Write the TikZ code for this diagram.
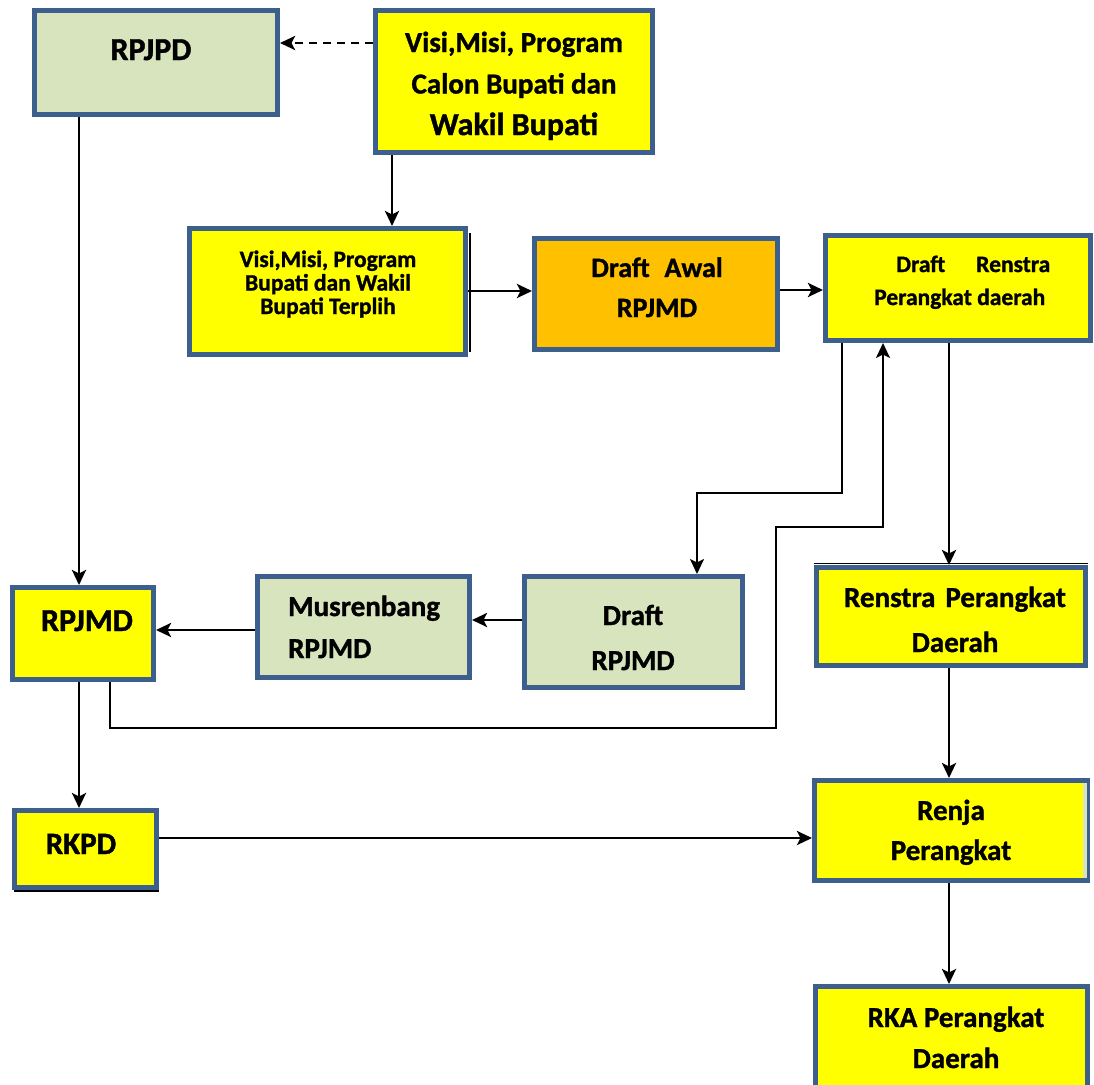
\documentclass[tikz,border=0pt]{standalone}
\usepackage{fontspec}
\setmainfont{Carlito}[BoldFeatures={FakeBold=1.2}]
\usetikzlibrary{arrows.meta}
\definecolor{bord}{HTML}{3C5F8E}
\definecolor{ylw}{HTML}{FFFF00}
\definecolor{grn}{HTML}{D7E4BD}
\definecolor{org}{HTML}{FFC000}
\newcommand\mybox[6]{\node[boxst,fill=#6,minimum width={(#4-#2-5)*1pt},minimum height={(#5-#3-5)*1pt}] (#1) at ({(#2+#4)/2},{(#3+#5)/2}) {};}
\newcommand\fsz[2]{\fontsize{#1}{#2}\selectfont\bfseries}
\begin{document}
\begin{tikzpicture}[x=1pt,y=-1pt,
  boxst/.style={draw=bord,line width=5pt,inner sep=0pt},
  conn/.style={line width=2.8pt},
  thinconn/.style={line width=2.2pt},
  arr/.style={-{Stealth[length=15pt,width=14pt,inset=3.5pt]}},
  txt/.style={align=center,inner sep=0pt}]
\clip (0,0) rectangle (1094,1084);
\fill[white] (0,0) rectangle (1094,1084);
% boxes
\mybox{rpjpd}{32}{8}{280}{117}{grn}
\mybox{vt}{373}{8}{655}{155}{ylw}
\mybox{v2}{187}{226}{468}{357}{ylw}
\mybox{da}{532}{236}{780}{352}{org}
\mybox{dr}{823}{233}{1093}{343}{ylw}
\mybox{rs}{814}{565}{1088}{668}{ylw}
\mybox{rj}{812}{778}{1090}{883}{ylw}
\mybox{rka}{813}{984}{1090}{1100}{ylw}
\mybox{rpjmd}{10}{585}{156}{682}{ylw}
\mybox{mus}{255}{574}{472}{680}{grn}
\mybox{drp}{522}{574}{745}{690}{grn}
\mybox{rkpd}{12}{808}{159}{890}{ylw}
% small details
\draw[line width=2pt] (v2.north east -| 470,0) ++(0,7) coordinate (s1) -- (s1 |- 0,352);
\draw[line width=1pt] (rs.north west |- 0,563) coordinate (s2) -- (s2 -| rs.north east);
\draw[line width=1.5pt] (rkpd.south west |- 0,891) ++(2,0) coordinate (s3) -- (s3 -| rkpd.south east);
\fill[grn] (1083,783) rectangle (1087,878);
% texts (anchor base = baseline of the last line)
\node[txt,anchor=base,font=\fsz{32}{38}] (t1) at (151,60) {RPJPD};
\node[txt,anchor=base,font=\fsz{29}{41.5}] (t2) at (514,135) {Visi,Misi, Program\\Calon Bupati dan\\{\fsz{32}{41.5}Wakil Bupati}};
\node[txt,anchor=base,font=\fsz{23.5}{23.5}] (t3) at (328,314) {Visi,Misi, Program\\Bupati dan Wakil\\Bupati Terplih};
\node[txt,anchor=base,font=\fsz{28}{40}] (t4) at (657,317) {Draft\hspace{0.3em} Awal\\RPJMD};
\node[txt,align=left,anchor=base west,font=\fsz{23.5}{33}] (t5) at (874,305) {\hspace*{22pt}Draft\hspace{31pt}Renstra\\Perangkat daerah};
\node[txt,align=left,anchor=base west,font=\fsz{29}{42}] (t6) at (288,658) {Musrenbang\\RPJMD};
\node[txt,anchor=base,font=\fsz{29}{45}] (t7) at (633,670) {Draft\\RPJMD};
\node[txt,anchor=base,font=\fsz{32}{38}] (t8) at (87,631) {RPJMD};
\node[txt,anchor=base,font=\fsz{31}{38}] (t9) at (81,854) {RKPD};
\node[txt,anchor=base,font=\fsz{29}{45}] (t10) at (955,652) {Renstra\hspace{10pt}Perangkat\\Daerah};
\node[txt,anchor=base,font=\fsz{29}{40}] (t11) at (951,860) {Renja\\Perangkat};
\node[txt,anchor=base,font=\fsz{29}{41}] (t12) at (956,1068) {RKA Perangkat\\Daerah};
% connectors
\draw[conn,arr,dash pattern=on 8pt off 6pt] (vt.west |- 0,43) -- (rpjpd.east |- 0,43);
\draw[conn,arr] (vt.south -| 392,0) -- (v2.north -| 392,0);
\draw[conn,arr] (v2.east |- 0,291) -- (da.west |- 0,291);
\draw[conn,arr] (da.east |- 0,290) -- (dr.west |- 0,290);
\draw[thinconn,arr] (dr.south -| 842,0) -- (842,493) -- (697,493) -- (drp.north -| 697,0);
\draw[thinconn,arr] (rpjmd.south -| 110,0) -- (110,728) -- (776,728) -- (776,527) -- (883,527) -- (dr.south -| 883,0);
\draw[conn,arr] (dr.south -| 949,0) -- (rs.north -| 949,0);
\draw[conn,arr] (rs.south -| 949,0) -- (rj.north -| 949,0);
\draw[conn,arr] (rj.south -| 949,0) -- (rka.north -| 949,0);
\draw[conn,arr] (rpjpd.south -| 79,0) -- (rpjmd.north -| 79,0);
\draw[conn,arr] (drp.west |- 0,620) -- (mus.east |- 0,620);
\draw[conn,arr] (mus.west |- 0,630) -- (rpjmd.east |- 0,630);
\draw[conn,arr] (rpjmd.south -| 79,0) -- (rkpd.north -| 79,0);
\draw[conn,arr] (rkpd.east |- 0,838) -- (rj.west |- 0,838);
\end{tikzpicture}
\end{document}
